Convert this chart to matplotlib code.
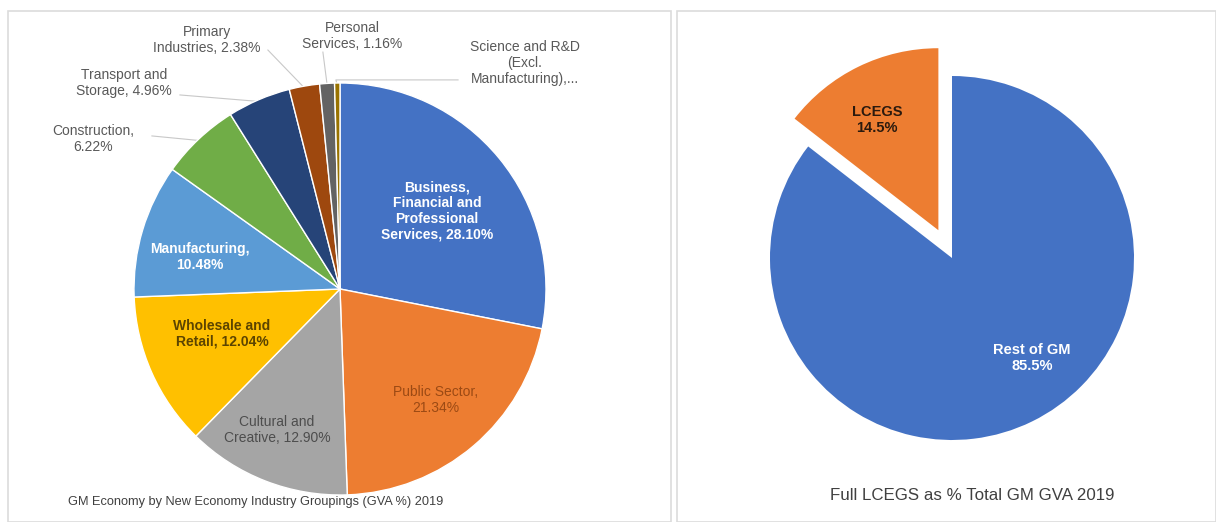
import numpy as np
import matplotlib
matplotlib.use("Agg")
import matplotlib.pyplot as plt
from matplotlib.patches import Rectangle

plt.rcParams['font.family'] = ['Liberation Sans', 'DejaVu Sans']

# GVA share by industry grouping, 2019 (clockwise from 12 o'clock)
sectors = ["Business,\nFinancial and\nProfessional\nServices, 28.10%",
           "Public Sector,\n21.34%",
           "Cultural and\nCreative, 12.90%",
           "Wholesale and\nRetail, 12.04%",
           "Manufacturing,\n10.48%",
           "Construction,\n6.22%",
           "Transport and\nStorage, 4.96%",
           "Primary\nIndustries, 2.38%",
           "Personal\nServices, 1.16%",
           "Science and R&D\n(Excl.\nManufacturing),..."]
sector_share = [28.10, 21.34, 12.90, 12.04, 10.48, 6.22, 4.96, 2.38, 1.16, 0.42]
sector_colors = ["#4472C4", "#ED7D31", "#A5A5A5", "#FFC000", "#5B9BD5",
                 "#70AD47", "#264478", "#9E480E", "#636363", "#997300"]

# LCEGS share of total GM GVA, 2019
lcegs_labels = ["LCEGS\n14.5%", "Rest of GM\n85.5%"]
lcegs_share = [14.5, 85.5]
lcegs_colors = ["#ED7D31", "#4472C4"]

left_title = "GM Economy by New Economy Industry Groupings (GVA %) 2019"
right_title = "Full LCEGS as % Total GM GVA 2019"

W, H = 1216, 522
fig = plt.figure(figsize=(W / 100, H / 100), dpi=100)
fig.patch.set_facecolor("white")


def px_axes(x0, x1, cx, cy, r):
    """Axes spanning pixel columns x0..x1 where one data unit is r pixels
    and (0, 0) sits at pixel (cx, cy) measured from the top-left."""
    ax = fig.add_axes([x0 / W, 0, (x1 - x0) / W, 1])
    ax.set_xlim((x0 - cx) / r, (x1 - cx) / r)
    ax.set_ylim((cy - H) / r, cy / r)
    return ax


def fix_limits(ax, x0, x1, cx, cy, r):
    ax.set_aspect('auto')
    ax.set_xlim((x0 - cx) / r, (x1 - cx) / r)
    ax.set_ylim((cy - H) / r, cy / r)
    ax.axis('off')


# panel frames
for (px0, px1) in [(8, 671), (677, 1216)]:
    fig.patches.append(Rectangle((px0 / W, 0), (px1 - px0) / W, 1 - 11 / H,
                                 transform=fig.transFigure, fill=False,
                                 edgecolor="#dcdcdc", linewidth=1.2))

# ---- left pie ----
LCX, LCY, LR = 340, 289, 206
ax1 = px_axes(0, 672, LCX, LCY, LR)
wedges, _ = ax1.pie(sector_share, colors=sector_colors, startangle=90,
                    counterclock=False, radius=1,
                    wedgeprops=dict(edgecolor="white", linewidth=1))
fix_limits(ax1, 0, 672, LCX, LCY, LR)

# labels inside the big slices
inside = {0: ((0.471, 0.379), "white", "bold"),
          1: ((0.466, -0.539), "#9c4a14", "normal"),
          2: ((-0.306, -0.684), "#4d4d4d", "normal"),
          3: ((-0.573, -0.218), "#5c4400", "bold"),
          4: ((-0.680, 0.155), "white", "bold")}
for i, ((tx, ty), col, wt) in inside.items():
    ax1.text(tx, ty, sectors[i], ha="center", va="center", fontsize=10,
             color=col, fontweight=wt, linespacing=1.17)

# outside labels with leader lines to the slice edge
outside = {5: ((-1.199, 0.728), [(-0.913, 0.743)]),
           6: ((-1.049, 0.998), [(-0.777, 0.942)]),
           7: ((-0.646, 1.209), [(-0.35, 1.16)]),
           8: ((0.058, 1.228), [(-0.083, 1.15)]),
           9: ((0.898, 1.097), [(0.573, 1.015), (-0.02, 1.015)])}
for i, ((tx, ty), path) in outside.items():
    w = wedges[i]
    mid = np.deg2rad((w.theta1 + w.theta2) / 2)
    end = (np.cos(mid) * 0.99, np.sin(mid) * 0.99)
    pts = path + [end]
    ax1.plot([p[0] for p in pts], [p[1] for p in pts], color="#c8c8c8",
             linewidth=0.8, zorder=0)
    ax1.text(tx, ty, sectors[i], ha="center", va="center", fontsize=10,
             color="#595959", linespacing=1.17)

fig.text(256 / W, 1 - 502 / H, left_title, ha="center", va="center",
         fontsize=9.2, color="#404040")

# ---- right pie ----
RCX, RCY, RR = 952, 258, 182
ax2 = px_axes(672, 1216, RCX, RCY, RR)
ax2.pie(lcegs_share, colors=lcegs_colors, startangle=90, counterclock=True,
        explode=[0.17, 0], radius=1)
fix_limits(ax2, 672, 1216, RCX, RCY, RR)
ax2.text((877 - RCX) / RR, (RCY - 120) / RR, lcegs_labels[0], ha="center",
         va="center", fontsize=10.5, fontweight="bold", color="#2b1a0e",
         linespacing=1.2)
ax2.text((1032 - RCX) / RR, (RCY - 358) / RR, lcegs_labels[1], ha="center",
         va="center", fontsize=10.5, fontweight="bold", color="white",
         linespacing=1.2)

fig.text(972 / W, 1 - 496 / H, right_title, ha="center", va="center",
         fontsize=12.2, color="#404040")

fig.savefig("out.png", dpi=100)
